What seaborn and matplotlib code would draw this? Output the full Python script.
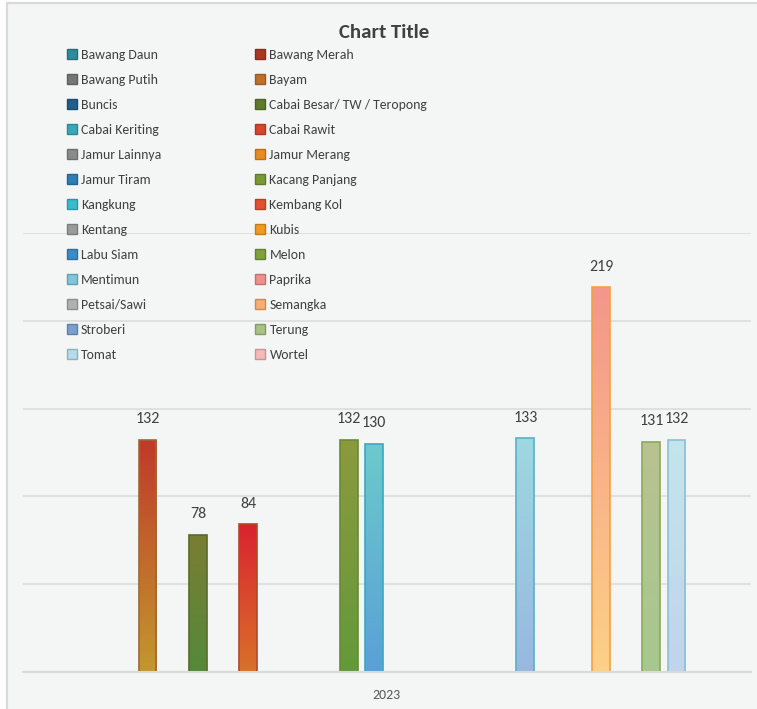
import numpy as np
import pandas as pd
import matplotlib
matplotlib.use("Agg")
import matplotlib.pyplot as plt
import matplotlib.colors as mcolors
from matplotlib.patches import Patch, Rectangle
import seaborn as sns

# ---------------- data ----------------
series = ["Bawang Daun", "Bawang Merah", "Bawang Putih", "Bayam", "Buncis",
          "Cabai Besar/ TW / Teropong", "Cabai Keriting", "Cabai Rawit",
          "Jamur Lainnya", "Jamur Merang", "Jamur Tiram", "Kacang Panjang",
          "Kangkung", "Kembang Kol", "Kentang", "Kubis", "Labu Siam", "Melon",
          "Mentimun", "Paprika", "Petsai/Sawi", "Semangka", "Stroberi",
          "Terung", "Tomat", "Wortel"]
values = [np.nan, np.nan, np.nan, 132, np.nan,
          78, np.nan, 84,
          np.nan, np.nan, np.nan, 132,
          130, np.nan, np.nan, np.nan, np.nan, np.nan,
          133, np.nan, np.nan, 219, np.nan,
          131, 132, np.nan]
category = "2023"

# legend swatch colours
legend_colors = ["#2f8a9a", "#a83a22", "#767676", "#c0702a", "#1f5f8a",
                 "#5f7a2c", "#3aa8b8", "#d8452c", "#8a8a8a", "#e98a22",
                 "#2e7db5", "#779a32", "#38bccb", "#e4502e", "#9a9a9a",
                 "#f29a1c", "#3a8cc6", "#80a03a", "#7ec6da", "#f0908a",
                 "#b0b0b0", "#fbad70", "#7aa0d0", "#a9c184", "#b6dcea",
                 "#f6b9b8"]
# bar gradient top / bottom colours and edge colours
grad_top = {"Bayam": "#c0392a", "Cabai Besar/ TW / Teropong": "#7a7d34",
            "Cabai Rawit": "#d9232f", "Kacang Panjang": "#8c9a3e",
            "Kangkung": "#6ccacb", "Mentimun": "#9ed8e0",
            "Semangka": "#f4968a", "Terung": "#b8c290", "Tomat": "#c4e5eb"}
grad_bot = {"Bayam": "#c3982e", "Cabai Besar/ TW / Teropong": "#548a3a",
            "Cabai Rawit": "#d9712a", "Kacang Panjang": "#63993a",
            "Kangkung": "#5aa0d8", "Mentimun": "#98b8e0",
            "Semangka": "#fdd187", "Terung": "#a6c88e", "Tomat": "#c0d4ec"}
edge_cols = {"Bayam": "#9a6a35", "Cabai Besar/ TW / Teropong": "#5a6a2a",
             "Cabai Rawit": "#b04a2a", "Kacang Panjang": "#6a8a35",
             "Kangkung": "#3aa8c0", "Mentimun": "#5ab0c8",
             "Semangka": "#f4a040", "Terung": "#8aaa5a", "Tomat": "#8ac0d8"}

df = pd.DataFrame({"year": [category] * len(series), "series": series, "value": values})

# ---------------- figure ----------------
FONT = ["Carlito", "DejaVu Sans"]
sns.set_style("white")
plt.rcParams["font.family"] = FONT

BG = "#f4f6f6"
fig = plt.figure(figsize=(7.57, 7.09), dpi=100)
fig.patch.set_facecolor("white")
# chart area background with border
bg = Rectangle((6.5 / 757, -0.01), 1.0, 1 - 2.5 / 709 + 0.01,
               transform=fig.transFigure, facecolor=BG,
               edgecolor="#d9d9d9", linewidth=1.6, zorder=-10)
fig.patches.append(bg)

ax = fig.add_axes([23 / 757, (709 - 672) / 709, (750.7 - 23) / 757, (672 - 233) / 709])
ax.set_facecolor("none")
ax.set_zorder(1)

sns.barplot(data=df, x="year", y="value", hue="series", hue_order=series,
            palette=legend_colors, width=0.9, gap=0.29, dodge=True,
            errorbar=None, ax=ax, legend=False, zorder=3)

ax.set_xlim(-0.5, 0.5)
ax.set_ylim(0, 250)

# gradient fill, edges and value labels
grad_img = np.linspace(0, 1, 256).reshape(-1, 1)
slot = 0.9 / len(series)
for cont in list(ax.containers):
    for patch in cont.patches:
        h = patch.get_height()
        if not np.isfinite(h) or h <= 0:
            continue
        x0 = patch.get_x()
        w = patch.get_width()
        xc = x0 + w / 2
        idx = int(round((xc + 0.45) / slot - 0.5))
        name = series[idx]
        cmap = mcolors.LinearSegmentedColormap.from_list(
            name, [grad_bot[name], grad_top[name]])
        patch.set_facecolor("none")
        patch.set_edgecolor(edge_cols[name])
        patch.set_linewidth(1.2)
        im = ax.imshow(grad_img, cmap=cmap, origin="lower", aspect="auto",
                       extent=(x0, x0 + w, 0, h), zorder=2.9,
                       interpolation="bilinear")
        im.set_clip_path(patch)
        ax.annotate(f"{int(h)}", xy=(xc, h), xytext=(0, 10),
                    textcoords="offset points", ha="center", va="bottom",
                    fontsize=11.5, color="#404040", family=FONT)

ax.set_xlim(-0.5, 0.5)
ax.set_ylim(0, 250)

# gridlines
ax.set_yticks([0, 50, 100, 150, 200, 250])
ax.set_yticklabels([])
ax.tick_params(axis="y", length=0)
ax.yaxis.grid(True, color="#e0e0e0", linewidth=1.5, zorder=0)
ax.set_axisbelow(True)

for s in ["left", "right", "top"]:
    ax.spines[s].set_visible(False)
ax.spines["bottom"].set_color("#d9d9d9")
ax.spines["bottom"].set_linewidth(1.5)
ax.spines["bottom"].set_zorder(4)

ax.set_xticks([0])
ax.set_xticklabels([category], fontsize=10, color="#595959", family=FONT)
ax.tick_params(axis="x", length=0, pad=12)
ax.set_xticks([-0.5, 0.5], minor=True)
ax.tick_params(axis="x", which="minor", length=6, width=1.5, color="#d9d9d9", direction="out")
ax.set_xlabel("")
ax.set_ylabel("")

# title
fig.text(384 / 757, 1 - 33 / 709, "Chart Title", ha="center", va="center",
         fontsize=15, fontweight="bold", color="#404040", family=FONT)

# legend (row-wise order in two columns)
handles = [Patch(facecolor=c, edgecolor=mcolors.to_hex(np.array(mcolors.to_rgb(c)) * 0.8))
           for c in legend_colors]
order = list(range(0, len(series), 2)) + list(range(1, len(series), 2))
leg = fig.legend([handles[i] for i in order], [series[i] for i in order],
                 ncol=2, loc="upper left", bbox_to_anchor=(67 / 757, 1 - 49 / 709),
                 frameon=False, handlelength=0.72, handleheight=0.75,
                 handletextpad=0.3, labelspacing=0.945, columnspacing=6.85,
                 borderpad=0, borderaxespad=0, prop={"family": FONT, "size": 9.9})
for t in leg.get_texts():
    t.set_color("#404040")

fig.savefig("out.png", dpi=100, facecolor=fig.get_facecolor())
